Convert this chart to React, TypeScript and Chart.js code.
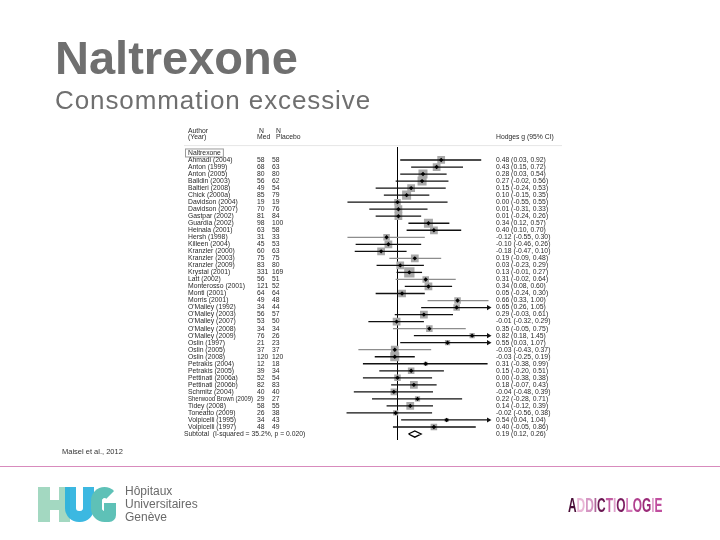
import React, { useEffect, useRef } from "react";
import { Chart, registerables } from "chart.js";

Chart.register(...registerables);

// ---------- data ----------
const authors = [
  "Ahmadi (2004)", "Anton (1999)", "Anton (2005)", "Balldin (2003)", "Baltieri (2008)",
  "Chick (2000a)", "Davidson (2004)", "Davidson (2007)", "Gastpar (2002)", "Guardia (2002)",
  "Heinala (2001)", "Hersh (1998)", "Killeen (2004)", "Kranzler (2000)", "Kranzler (2003)",
  "Kranzler (2009)", "Krystal (2001)", "Latt (2002)", "Monterosso (2001)", "Monti (2001)",
  "Morris (2001)", "O'Malley (1992)", "O'Malley (2003)", "O'Malley (2007)", "O'Malley (2008)",
  "O'Malley (2009)", "Oslin (1997)", "Oslin (2005)", "Oslin (2008)", "Petrakis (2004)",
  "Petrakis (2005)", "Pettinati (2006a)", "Pettinati (2006b)", "Schmitz (2004)",
  "Sherwood Brown (2009)", "Tidey (2008)", "Toneatto (2009)", "Volpicelli (1995)", "Volpicelli (1997)",
];
const nMed = [58, 68, 80, 56, 49, 85, 19, 70, 81, 98, 63, 31, 45, 60, 75, 83, 331, 56, 121, 64, 49, 34, 56, 53, 34, 76, 21, 37, 120, 12, 39, 52, 82, 40, 29, 58, 26, 34, 48];
const nPlacebo = [58, 63, 80, 62, 54, 79, 19, 76, 84, 100, 58, 33, 53, 63, 75, 80, 169, 51, 52, 64, 48, 44, 57, 50, 34, 26, 23, 37, 120, 18, 34, 54, 83, 40, 27, 55, 38, 43, 49];
const hedgesG = [0.48, 0.43, 0.28, 0.27, 0.15, 0.10, 0.00, 0.01, 0.01, 0.34, 0.40, -0.12, -0.10, -0.18, 0.19, 0.03, 0.13, 0.31, 0.34, 0.05, 0.66, 0.65, 0.29, -0.01, 0.35, 0.82, 0.55, -0.03, -0.03, 0.31, 0.15, 0.00, 0.18, -0.04, 0.22, 0.14, -0.02, 0.54, 0.40];
const ciLow = [0.03, 0.15, 0.03, -0.02, -0.24, -0.15, -0.55, -0.31, -0.24, 0.12, 0.10, -0.55, -0.46, -0.47, -0.09, -0.23, -0.01, -0.02, 0.08, -0.24, 0.33, 0.26, -0.03, -0.32, -0.05, 0.18, 0.03, -0.43, -0.25, -0.38, -0.20, -0.38, -0.07, -0.48, -0.28, -0.12, -0.56, 0.04, -0.05];
const ciHigh = [0.92, 0.72, 0.54, 0.56, 0.53, 0.35, 0.55, 0.33, 0.26, 0.57, 0.70, 0.30, 0.26, 0.10, 0.48, 0.29, 0.27, 0.64, 0.60, 0.30, 1.00, 1.05, 0.61, 0.29, 0.75, 1.45, 1.07, 0.37, 0.19, 0.99, 0.51, 0.38, 0.43, 0.39, 0.71, 0.39, 0.38, 1.04, 0.86];
const weights = [3.1, 3.1, 4.2, 4.2, 3.1, 4.2, 2.2, 3.1, 3.1, 4.2, 3.1, 2.2, 3.1, 3.1, 3.1, 3.1, 5.5, 2.2, 3.1, 3.1, 2.2, 2.2, 3.1, 3.1, 2.2, 1.4, 1.4, 3.1, 4.2, 0.8, 2.2, 2.2, 3.1, 2.2, 1.4, 3.1, 1.4, 0.8, 2.2];
const subtotalG = 0.19;
const subtotalLow = 0.12;
const subtotalHigh = 0.26;
const subtotalLabel = "Subtotal  (I-squared = 35.2%, p = 0.020)";
const groupLabel = "Naltrexone";
const headerAuthor = ["Author", "(Year)"];
const headerMed = ["N", "Med"];
const headerPlacebo = ["N", "Placebo"];
const headerEffect = "Hodges g (95% CI)";
const lightRows = [11, 14, 17, 20, 24, 27];

const X_MIN = -1;
const X_MAX = 1;
const Y_MIN = -1.85;
const Y_MAX = 39.85;

const fmt = (v: number) => v.toFixed(2);

const FONT = '"Liberation Sans", Arial, sans-serif';

const textPlugin = {
  id: "forestText",
  afterDatasetsDraw(chart: any) {
    const { ctx, scales } = chart;
    const y = scales.y;
    const py = (v: number) => y.getPixelForValue(v);
    const colAuthor = 188;
    const colMed = 257;
    const colPlac = 272;
    const colEff = 496;
    ctx.save();
    ctx.fillStyle = "#2a2a2a";
    ctx.textBaseline = "middle";
    ctx.textAlign = "left";
    ctx.font = `6.8px ${FONT}`;
    // headers
    ctx.fillText(headerAuthor[0], colAuthor, py(-4.05));
    ctx.fillText(headerAuthor[1], colAuthor, py(-3.3));
    ctx.fillText(headerMed[0], colMed + 2, py(-4.05));
    ctx.fillText(headerMed[1], colMed, py(-3.3));
    ctx.fillText(headerPlacebo[0], colPlac + 4, py(-4.05));
    ctx.fillText(headerPlacebo[1], colPlac + 4, py(-3.3));
    ctx.fillText(headerEffect, colEff, py(-3.3));
    // header rule
    ctx.strokeStyle = "#e6e6e6";
    ctx.lineWidth = 1;
    ctx.beginPath();
    ctx.moveTo(184, py(-2.05));
    ctx.lineTo(562, py(-2.05));
    ctx.stroke();
    // group label with box
    ctx.fillText(groupLabel, colAuthor, py(-1));
    const w = ctx.measureText(groupLabel).width;
    ctx.strokeStyle = "#9a9a9a";
    ctx.strokeRect(colAuthor - 2.5, py(-1) - 4, w + 5, 8);
    // rows
    authors.forEach((a, i) => {
      const yy = py(i);
      ctx.fillText(a, colAuthor, yy, 65);
      ctx.fillText(String(nMed[i]), colMed, yy);
      ctx.fillText(String(nPlacebo[i]), colPlac, yy);
      ctx.fillText(`${fmt(hedgesG[i])} (${fmt(ciLow[i])}, ${fmt(ciHigh[i])})`, colEff, yy);
    });
    const ys = py(authors.length);
    ctx.fillText(subtotalLabel, colAuthor - 4, ys);
    ctx.fillText(`${fmt(subtotalG)} (${fmt(subtotalLow)}, ${fmt(subtotalHigh)})`, colEff, ys);
    ctx.restore();
  },
};

function ForestChart() {
  const ref = useRef<HTMLCanvasElement>(null);
  useEffect(() => {
    if (!ref.current) return;
    const rows = authors.map((_, i) => i);
    const N = authors.length;
    const datasets: any[] = [];
    datasets.push({
      type: "line",
      data: [{ x: 0, y: Y_MIN }, { x: 0, y: Y_MAX }],
      borderColor: "#000",
      borderWidth: 1,
      pointRadius: 0,
      order: 6,
      clip: false,
    });
    datasets.push({
      type: "scatter",
      data: rows.map((i) => ({ x: hedgesG[i], y: i })),
      pointStyle: "rect",
      pointRadius: weights.map((w) => (Math.sqrt(w) * 4.4) / 1.414),
      backgroundColor: "#a8a8a8",
      borderWidth: 0,
      order: 5,
    });
    rows.forEach((i) => {
      const arrow = ciHigh[i] > X_MAX;
      const col = lightRows.includes(i) ? "#8d8d8d" : "#111";
      datasets.push({
        type: "line",
        data: [
          { x: ciLow[i], y: i },
          { x: Math.min(ciHigh[i], X_MAX), y: i },
        ],
        borderColor: col,
        borderWidth: 1.3,
        pointStyle: "triangle",
        pointRotation: 90,
        pointRadius: [0, arrow ? 3 : 0],
        pointBackgroundColor: col,
        pointBorderColor: col,
        pointBorderWidth: 0,
        order: 3,
        clip: false,
      });
    });
    datasets.push({
      type: "scatter",
      data: rows.map((i) => ({ x: hedgesG[i], y: i })),
      pointStyle: "rectRot",
      pointRadius: 2.2,
      backgroundColor: "#000",
      borderWidth: 0,
      order: 1,
    });
    datasets.push({
      type: "line",
      data: [
        { x: subtotalLow, y: N },
        { x: subtotalG, y: N - 0.45 },
        { x: subtotalHigh, y: N },
        { x: subtotalG, y: N + 0.45 },
        { x: subtotalLow, y: N },
      ],
      borderColor: "#000",
      borderWidth: 1.3,
      pointRadius: 0,
      fill: false,
      order: 2,
      clip: false,
    });

    const chart = new Chart(ref.current, {
      type: "line",
      data: { datasets },
      options: {
        animation: false,
        responsive: false,
        events: [],
        layout: { padding: { left: 306.5, right: 231.5, top: 147, bottom: 100 } },
        scales: {
          x: { type: "linear", min: X_MIN, max: X_MAX, display: false },
          y: { type: "linear", min: Y_MIN, max: Y_MAX, reverse: true, display: false },
        },
        plugins: { legend: { display: false }, tooltip: { enabled: false } },
      },
      plugins: [textPlugin],
    } as any);
    return () => chart.destroy();
  }, []);
  return (
    <canvas
      ref={ref}
      width={720}
      height={540}
      style={{ position: "absolute", left: 0, top: 0, width: 720, height: 540 }}
    />
  );
}

const addLetters = ["A", "D", "D", "I", "C", "T", "I", "O", "L", "O", "G", "I", "E"];
const addColors = ["#4a0e38", "#e9b6d6", "#d596c3", "#b0669a", "#6a1852", "#c45fa4", "#e0a0cc", "#7b1d60", "#d77fbd", "#b1418f", "#9a2b78", "#e0a0cc", "#c04f9f"];

export default function App() {
  useEffect(() => {
    document.body.style.margin = "0";
  }, []);
  return (
    <div
      style={{
        position: "absolute",
        left: 0,
        top: 0,
        width: 720,
        height: 540,
        overflow: "hidden",
        background: "#fff",
        fontFamily: FONT,
      }}
    >
      <ForestChart />
      <div
        style={{
          position: "absolute",
          left: 55,
          top: 34,
          fontSize: 47,
          lineHeight: "47px",
          fontWeight: "bold",
          color: "#6f6f6f",
          whiteSpace: "nowrap",
        }}
      >
        Naltrexone
      </div>
      <div
        style={{
          position: "absolute",
          left: 55,
          top: 87,
          fontSize: 26,
          lineHeight: "26px",
          letterSpacing: 0.9,
          color: "#6f6f6f",
          whiteSpace: "nowrap",
        }}
      >
        Consommation excessive
      </div>
      <div
        style={{
          position: "absolute",
          left: 62,
          top: 448,
          fontSize: 7.5,
          lineHeight: "8px",
          color: "#333",
          whiteSpace: "nowrap",
        }}
      >
        Maisel et al., 2012
      </div>
      <div style={{ position: "absolute", left: 0, top: 466, width: 720, height: 1, background: "#d88bbd" }} />
      {/* HUG logo */}
      <div style={{ position: "absolute", left: 38, top: 487, width: 12, height: 35, background: "#a3d8c1" }} />
      <div style={{ position: "absolute", left: 50, top: 500, width: 10, height: 10, background: "#a3d8c1" }} />
      <div style={{ position: "absolute", left: 59, top: 487, width: 11, height: 35, background: "#a3d8c1" }} />
      <div
        style={{
          position: "absolute",
          left: 65,
          top: 487,
          width: 7,
          height: 24,
          borderLeft: "11px solid #27b1de",
          borderRight: "11px solid #27b1de",
          borderBottom: "11px solid #27b1de",
          borderBottomLeftRadius: 14,
          borderBottomRightRadius: 14,
          opacity: 0.9,
        }}
      />
      <div
        style={{
          position: "absolute",
          left: 91,
          top: 487,
          width: 5,
          height: 13,
          border: "11px solid #5ec1b7",
          borderRightColor: "transparent",
          borderRadius: 15,
        }}
      />
      <div style={{ position: "absolute", left: 104, top: 503, width: 12, height: 19, background: "#5ec1b7", borderBottomRightRadius: 7 }} />
      <div
        style={{
          position: "absolute",
          left: 125,
          top: 485,
          fontSize: 12,
          lineHeight: "13px",
          color: "#6a6a6a",
          whiteSpace: "nowrap",
        }}
      >
        Hôpitaux
        <br />
        Universitaires
        <br />
        Genève
      </div>
      {/* ADDICTOLOGIE logo */}
      <div
        style={{
          position: "absolute",
          left: 568,
          top: 495,
          fontSize: 19.5,
          lineHeight: "20px",
          fontWeight: "bold",
          whiteSpace: "nowrap",
          transform: "scaleX(0.61)",
          transformOrigin: "left top",
        }}
      >
        {addLetters.map((l, i) => (
          <span key={i} style={{ color: addColors[i] }}>
            {l}
          </span>
        ))}
      </div>
    </div>
  );
}
